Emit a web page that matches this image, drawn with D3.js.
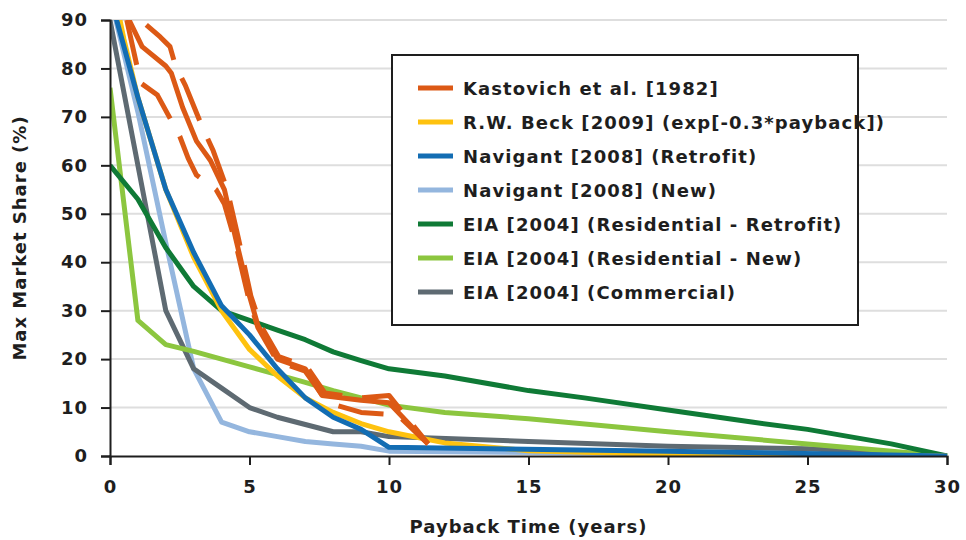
<!DOCTYPE html>
<html>
<head>
<meta charset="utf-8">
<script src="https://cdn.jsdelivr.net/npm/d3@7"></script>
<style>
  body { margin: 0; background: #fff; }
  svg { display: block; }
  text { font-family: "DejaVu Sans", sans-serif; font-weight: 700; fill: #1e1e1e; }
</style>
</head>
<body>
<svg id="chart" width="966" height="540"></svg>
<script>
// data: [payback years, max market share %]
var kastovichMid = [[0.6,91],[1.15,84.5],[2,80.5],[2.2,79],[2.6,72],[3.1,65],[3.6,61],[4.1,55],[4.5,45],[5,33],[5.3,27],[6,20],[7,18],[7.6,12.5],[9,11.5],[10,11],[11.4,2.5]];
var kastovichHigh = [[1.3,89],[1.8,86.5],[2.15,84.5],[2.35,80.5],[2.7,76.5],[3.3,68],[3.7,63],[4.2,55],[4.6,45],[5.05,33],[5.4,27],[6.05,20.5],[7.05,18.5],[7.7,13],[9,12],[10,12.5],[11.4,2.5]];
var kastovichLow = [[0.6,90],[1.1,77],[1.7,74.5],[2.5,66],[2.8,61.5],[3.1,58],[3.8,55],[4.1,52],[4.5,44],[4.95,33],[5.3,26.5],[6,19.5],[7,17.5],[7.8,11],[9,9],[10.3,8.5],[11.4,2.5]];
var rwBeck = [[0,100],[0.5,86],[1,74],[2,55],[3,41],[4,30],[5,22],[6,16.5],[7,12],[8,9],[9,6.7],[10,5],[12,2.7],[15,1.1],[20,0.3],[30,0]];
var navigantRetrofit = [[0,95],[1,74],[2,55],[3,42],[4,31],[5,25],[6,18],[7,12],[8,8],[9,5.5],[10,1.8],[20,1],[30,0]];
var navigantNew = [[0,95],[1,71],[2,44],[3,18],[4,7],[5,5],[6,4],[7,3],[8,2.5],[9,2],[10,1],[30,0]];
var eiaResRetrofit = [[0,60],[1,53],[2,43],[3,35],[4,30],[5,28],[6,26],[7,24],[8,21.5],[9,19.7],[10,18],[12,16.5],[15,13.5],[17,12],[20,9.5],[23,7],[25,5.5],[28,2.5],[30,0]];
var eiaResNew = [[0,76],[1,28],[2,23],[3,21.6],[4,20],[5,18.4],[6,16.8],[7,15.2],[8,13.5],[9,12],[10,10.5],[12,9],[15,7.7],[20,5],[25,2.5],[30,0]];
var eiaCommercial = [[0,90],[2,30],[3,18],[4,14],[5,10],[6,8],[7,6.5],[8,5],[9,5],[10,4],[15,3],[20,2],[25,1.5],[30,0]];

var seriesNames = ["Kastovich et al. [1982]", "R.W. Beck [2009] (exp[-0.3*payback])", "Navigant [2008] (Retrofit)",
  "Navigant [2008] (New)", "EIA [2004] (Residential - Retrofit)", "EIA [2004] (Residential - New)", "EIA [2004] (Commercial)"];
var seriesColors = ["#dc5915", "#fec20f", "#136db3", "#94b6de", "#0f7a36", "#8cc63f", "#5e6a72"];
var xTicks = [0, 5, 10, 15, 20, 25, 30];
var yTicks = [0, 10, 20, 30, 40, 50, 60, 70, 80, 90];

var svg = d3.select("#chart");
var mLeft = 110, mTop = 20, mRight = 947, mBottom = 456;

var x = d3.scaleLinear().domain([0, 30]).range([mLeft, mRight]);
var y = d3.scaleLinear().domain([0, 90]).range([mBottom, mTop]);

// grid
svg.append("g").selectAll("line").data(yTicks.slice(1)).enter().append("line")
  .attr("x1", mLeft).attr("x2", mRight)
  .attr("y1", function (d) { return y(d); }).attr("y2", function (d) { return y(d); })
  .style("stroke", "#dedede").style("stroke-width", 2);

svg.append("clipPath").attr("id", "plot").append("rect")
  .attr("x", mLeft).attr("y", mTop).attr("width", mRight - mLeft + 4).attr("height", mBottom - mTop);

var line = d3.line().x(function (d) { return x(d[0]); }).y(function (d) { return y(d[1]); });

var lines = [
  { data: navigantNew, color: seriesColors[3] },
  { data: eiaCommercial, color: seriesColors[6] },
  { data: eiaResNew, color: seriesColors[5] },
  { data: eiaResRetrofit, color: seriesColors[4] },
  { data: rwBeck, color: seriesColors[1] },
  { data: navigantRetrofit, color: seriesColors[2] },
  { data: kastovichLow, color: seriesColors[0], dash: "46,20" },
  { data: kastovichHigh, color: seriesColors[0], dash: "46,20" },
  { data: kastovichMid, color: seriesColors[0] }
];

var plot = svg.append("g").attr("clip-path", "url(#plot)");
plot.selectAll("path").data(lines).enter().append("path")
  .attr("d", function (d) { return line(d.data); })
  .style("fill", "none")
  .style("stroke", function (d) { return d.color; })
  .style("stroke-width", 5)
  .style("stroke-linejoin", "round")
  .style("stroke-dasharray", function (d) { return d.dash || null; });

// axes
var yAxis = svg.append("g").attr("transform", "translate(" + mLeft + ",0)")
  .call(d3.axisLeft(y).tickValues(yTicks).tickSize(9).tickPadding(13));
var xAxis = svg.append("g").attr("transform", "translate(0," + mBottom + ")")
  .call(d3.axisBottom(x).tickValues(xTicks).tickSize(9).tickPadding(15));
[yAxis, xAxis].forEach(function (a) {
  a.select(".domain").style("stroke", "#1e1e1e").style("stroke-width", 2);
  a.selectAll(".tick line").style("stroke", "#1e1e1e").style("stroke-width", 2);
  a.selectAll(".tick text").style("font-size", "18px").style("font-family", "DejaVu Sans, sans-serif")
    .style("font-weight", 700).style("fill", "#1e1e1e").style("letter-spacing", "1px");
});

svg.append("text").attr("x", (mLeft + mRight) / 2).attr("y", 533).attr("text-anchor", "middle")
  .style("font-size", "18px").style("letter-spacing", "1px").text("Payback Time (years)");
svg.append("text").attr("transform", "translate(26," + ((mTop + mBottom) / 2) + ") rotate(-90)")
  .attr("text-anchor", "middle").style("font-size", "18px").style("letter-spacing", "1px")
  .text("Max Market Share (%)");

// legend
var legend = svg.append("g");
legend.append("rect").attr("x", 392).attr("y", 55).attr("width", 466).attr("height", 270)
  .style("fill", "#fff").style("stroke", "#1e1e1e").style("stroke-width", 2);
var rows = legend.selectAll("g.row").data(seriesNames).enter().append("g").attr("class", "row")
  .attr("transform", function (d, i) { return "translate(0," + (88 + i * 34) + ")"; });
rows.append("line").attr("x1", 418).attr("x2", 453).attr("y1", 0).attr("y2", 0)
  .style("stroke", function (d, i) { return seriesColors[i]; }).style("stroke-width", 5);
rows.append("text").attr("x", 463).attr("y", 7).style("font-size", "18px").style("letter-spacing", "1.1px")
  .text(function (d) { return d; });
</script>
</body>
</html>
